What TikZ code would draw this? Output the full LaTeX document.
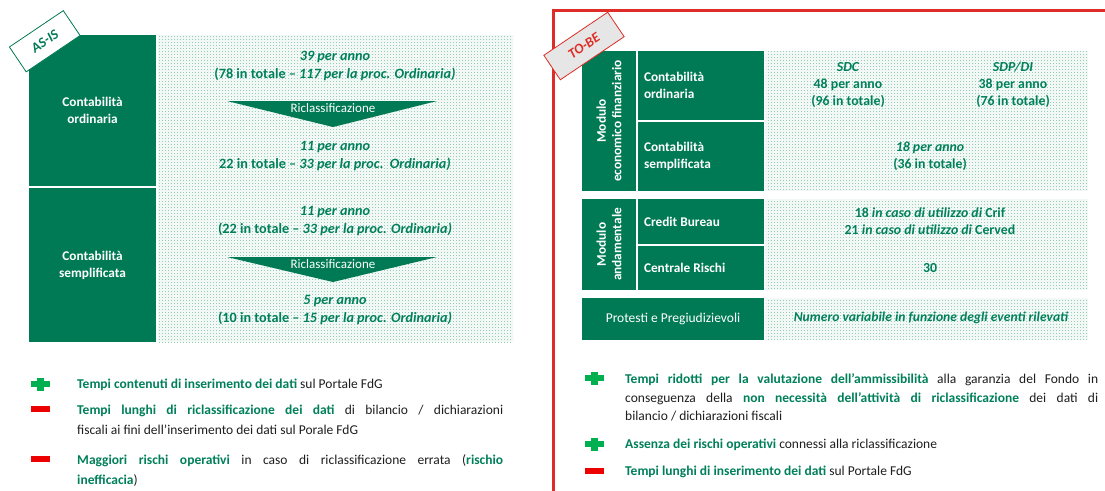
\documentclass[tikz,border=0pt]{standalone}
\usepackage{fontspec}
\setmainfont{Carlito}
\usetikzlibrary{patterns}
\definecolor{dg}{RGB}{0,122,84}
\definecolor{tg}{RGB}{0,128,90}
\definecolor{mint}{RGB}{150,205,180}
\definecolor{mintbg}{RGB}{242,248,245}
\definecolor{pg}{RGB}{0,176,80}
\definecolor{mr}{RGB}{236,0,0}
\definecolor{fr}{RGB}{222,45,38}
\definecolor{tagg}{RGB}{230,230,230}
\definecolor{txt}{RGB}{30,30,30}
\newcommand\myfs{\fontsize{13.3}{17}\selectfont}
\newcommand\myfsv{\fontsize{14.2}{18}\selectfont}
\newcommand\myfsr{\fontsize{13.8}{17}\selectfont}
\newcommand\gr[1]{\textcolor{tg}{\bfseries #1}}
\pgfdeclarepatternformonly{dotgrid}{\pgfqpoint{0pt}{0pt}}{\pgfqpoint{3pt}{3pt}}{\pgfqpoint{3pt}{3pt}}{\pgfpathrectangle{\pgfqpoint{0pt}{0pt}}{\pgfqpoint{1.2pt}{1.2pt}}\pgfusepath{fill}}
\tikzset{
 gbox/.style={fill=dg, text=white, font=\bfseries\myfs, inner sep=0pt, outer sep=0pt, anchor=north west},
 dbox/.style={fill=mintbg, postaction={pattern=dotgrid, pattern color=mint}, inner sep=0pt, outer sep=0pt, anchor=north west},
 val/.style={text=tg, font=\bfseries\myfsv, align=flush center, inner sep=0pt},
 rval/.style={text=tg, font=\bfseries\myfsr, align=flush center, inner sep=0pt},
 ricl/.style={text=white, font=\fontsize{13}{15}\selectfont, inner sep=0pt},
 bul/.style={anchor=north west, inner sep=0pt, text=txt, font=\fontsize{13.5}{17}\selectfont},
 tagbox/.style={rotate=34, inner sep=0pt, font=\bfseries\itshape\fontsize{14}{16}\selectfont, line width=0.8pt},
 plusicon/.pic={\fill[pg] (-9.5,-2.6) rectangle (9.5,2.6); \fill[pg] (-3.5,-6.5) rectangle (3.5,6.5);},
 minusicon/.pic={\fill[mr] (-9.5,-2.6) rectangle (9.5,2.6);}
}
\begin{document}
\begin{tikzpicture}[x=1pt,y=-1pt]
\useasboundingbox (0,0) rectangle (1105,490);
\fill[white] (0,0) rectangle (1105,490);
% red frame
\draw[fr, line width=3pt] (1115,10) -- (553,10) -- (553,500);
% ---------------- AS-IS ----------------
\node[gbox, minimum width=127pt, minimum height=151pt, text width=127pt, align=flush center] (co) at (29,35) {Contabilità\\ordinaria};
\node[gbox, minimum width=127pt, minimum height=154pt, text width=127pt, align=flush center] (cs) at (29,188) {Contabilità\\semplificata};
\node[dbox, minimum width=355pt, minimum height=307pt] (ld) at (158,35) {};
\node[val] (v1) at (335,66) {\itshape 39 per anno\\(78 in totale -- \textit{117 per la proc. Ordinaria)}};
\fill[dg] (227,101) -- (437,101) -- (333,127) -- cycle;
\node[ricl] (r1) at (333,108.5) {Riclassificazione};
\node[val] (v2) at (335,156) {\itshape 11 per anno\\22 in totale -- \textit{33 per la proc.\ \ Ordinaria)}};
\node[val] (v3) at (335,221) {\itshape 11 per anno\\(22 in totale -- \textit{33 per la proc. Ordinaria)}};
\fill[dg] (227,257) -- (437,257) -- (333,282) -- cycle;
\node[ricl] (r2) at (333,264.5) {Riclassificazione};
\node[val] (v4) at (335,310.5) {\itshape 5 per anno\\(10 in totale -- \textit{15 per la proc. Ordinaria)}};
\node[draw=dg, fill=white, text=dg, tagbox, minimum width=65pt, minimum height=30pt] (asis) at (44.75,41.25) {AS-IS};
% ---------------- TO-BE ----------------
\node[gbox, anchor=center, rotate=90, minimum width=140pt, minimum height=54pt, align=flush center, font=\bfseries\fontsize{13.3}{15.5}\selectfont] (mef) at (609,121) {Modulo\\economico finanziario};
\node[gbox, minimum width=126pt, minimum height=69pt, text width=114pt, align=flush left] (co2) at (638,51) {Contabilità\\ordinaria};
\node[gbox, minimum width=126pt, minimum height=69.5pt, text width=114pt, align=flush left] (cs2) at (638,121.5) {Contabilità\\semplificata};
\node[dbox, minimum width=322.5pt, minimum height=140pt] (rd1) at (765.5,51) {};
\node[rval] (sdc) at (848,85) {\itshape SDC\\48 per anno\\(96 in totale)};
\node[rval] (sdp) at (1013,85) {\itshape SDP/DI\\38 per anno\\(76 in totale)};
\node[rval] (s18) at (930,156.5) {\itshape 18 per anno\\(36 in totale)};
\node[gbox, anchor=center, rotate=90, minimum width=91pt, minimum height=54pt, align=flush center, font=\bfseries\fontsize{13.3}{15.5}\selectfont] (man) at (609,244.5) {Modulo\\andamentale};
\node[gbox, minimum width=126pt, minimum height=45pt, text width=114pt, align=flush left] (cb) at (638,199) {Credit Bureau};
\node[gbox, minimum width=126pt, minimum height=44pt, text width=114pt, align=flush left] (cr) at (638,246) {Centrale Rischi};
\node[dbox, minimum width=322.5pt, minimum height=91pt] (rd2) at (765.5,199) {};
\node[rval] (crif) at (930,221.5) {18 \textit{in caso di utilizzo di} Crif\\21 \textit{in caso di utilizzo di} Cerved};
\node[rval] (c30) at (930,268) {30};
\node[gbox, minimum width=182pt, minimum height=42pt, font=\fontsize{13.5}{17}\selectfont] (pp) at (582,298) {Protesti e Pregiudizievoli};
\node[dbox, minimum width=322.5pt, minimum height=42pt] (rd3) at (765.5,298) {};
\node[rval, font=\bfseries\fontsize{13.6}{17}\selectfont] (num) at (931,318) {\itshape Numero variabile in funzione degli eventi rilevati};
\node[draw=fr, fill=tagg, text=fr, tagbox, minimum width=77pt, minimum height=29.5pt] (tobe) at (584,46) {TO-BE};
% ---------------- bullets left ----------------
\pic at (40,384) {plusicon};
\node[bul] (lb1) at (77,378.5) {\gr{Tempi contenuti di inserimento dei dati} sul Portale FdG};
\pic at (40,409) {minusicon};
\node[bul, text width=426pt, align=justify, font=\fontsize{13.5}{20.5}\selectfont] (lb2) at (77,404.5) {\gr{Tempi lunghi di riclassificazione dei dati} di bilancio / dichiarazioni\linebreak fiscali ai fini dell’inserimento dei dati sul Porale FdG};
\pic at (40,459) {minusicon};
\node[bul, text width=426pt, align=justify, font=\fontsize{13.5}{20}\selectfont] (lb3) at (77,454.5) {\gr{Maggiori rischi operativi} in caso di riclassificazione errata (\gr{rischio}\linebreak \gr{inefficacia})};
% ---------------- bullets right ----------------
\pic at (594,378) {plusicon};
\node[bul, text width=473pt, align=justify, font=\fontsize{13.5}{18.5}\selectfont] (rb1) at (625,373.5) {\gr{Tempi ridotti per la valutazione dell’ammissibilità} alla garanzia del Fondo in\linebreak conseguenza della \gr{non necessità dell’attività di riclassificazione} dei dati di\linebreak bilancio / dichiarazioni fiscali};
\pic at (594,444) {plusicon};
\node[bul] (rb2) at (625,438.5) {\gr{Assenza dei rischi operativi} connessi alla riclassificazione};
\pic at (594,471) {minusicon};
\node[bul] (rb3) at (625,465.5) {\gr{Tempi lunghi di inserimento dei dati} sul Portale FdG};
\end{tikzpicture}
\end{document}
